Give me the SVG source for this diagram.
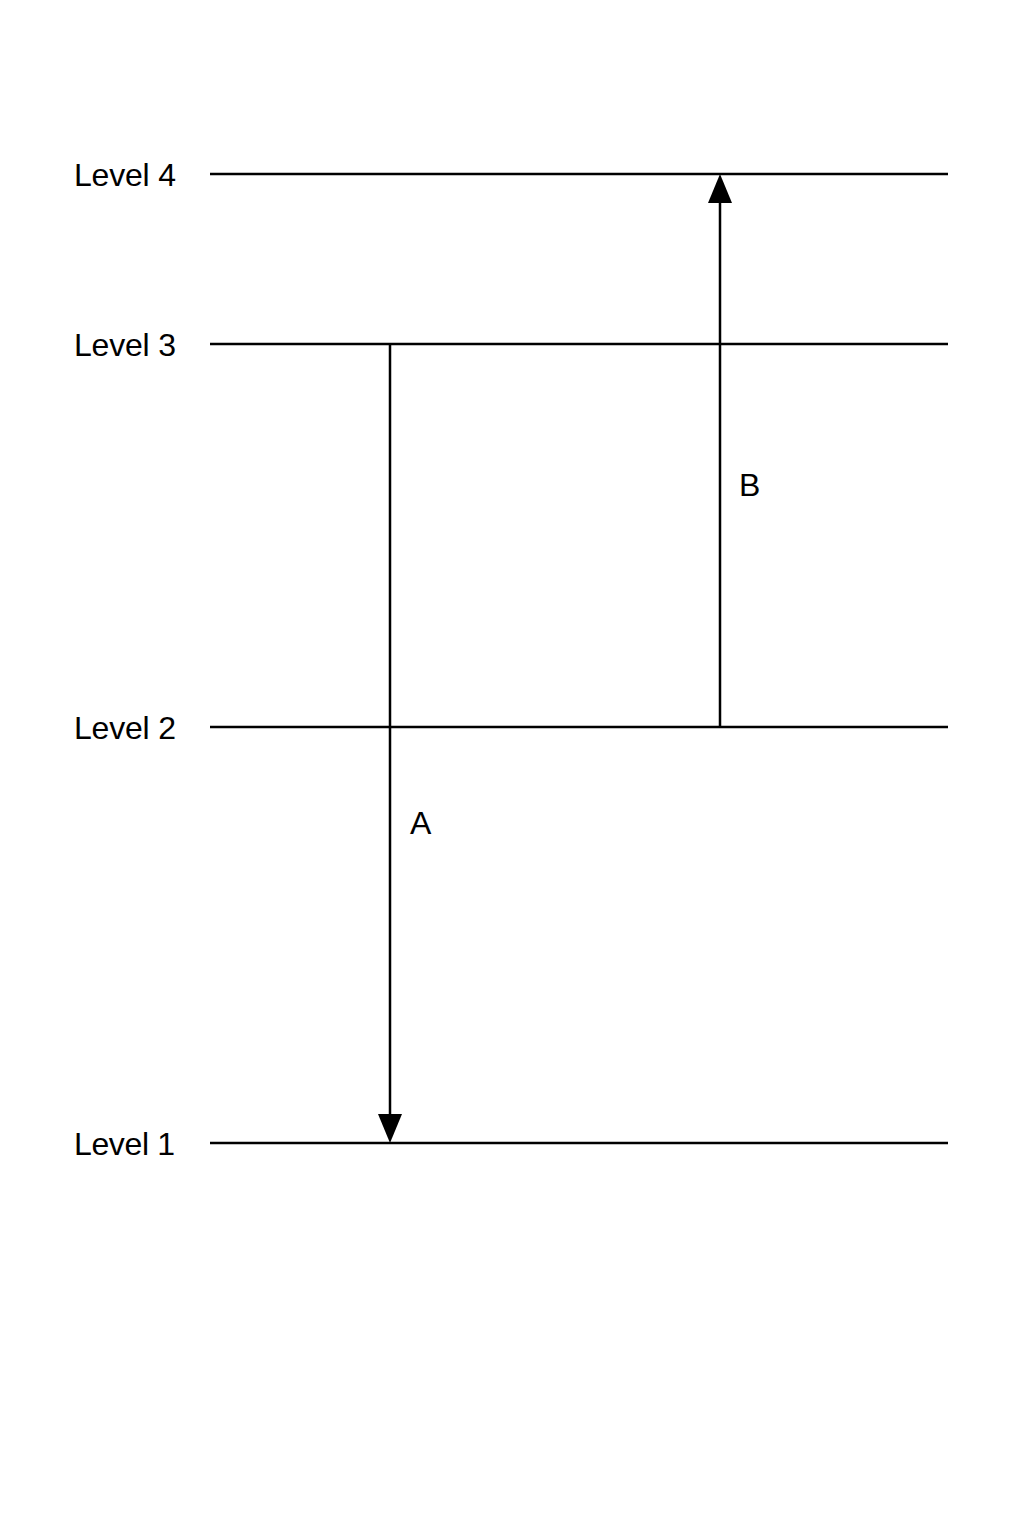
<svg xmlns="http://www.w3.org/2000/svg" width="1024" height="1536" viewBox="0 0 1024 1536">
<style>
.lvl{stroke:#000;stroke-width:2.5;fill:none}
.arr{stroke:#000;stroke-width:2.5;fill:none}
text{font-family:"Liberation Sans",Arial,sans-serif;font-size:32px;fill:#000}
</style>
<defs>
<marker id="ah" viewBox="0 0 24 30" refX="24" refY="12" markerWidth="30" markerHeight="24" markerUnits="userSpaceOnUse" orient="auto">
<path d="M0,0 L30,12 L0,24 Z" fill="#000"/>
</marker>
</defs>
<rect width="1024" height="1536" fill="#fff"/>
<g id="level4"><line class="lvl" x1="210" y1="174" x2="948" y2="174"/><text x="74" y="186" textLength="102">Level 4</text></g>
<g id="level3"><line class="lvl" x1="210" y1="344" x2="948" y2="344"/><text x="74" y="356" textLength="102">Level 3</text></g>
<g id="level2"><line class="lvl" x1="210" y1="727" x2="948" y2="727"/><text x="74" y="739" textLength="102">Level 2</text></g>
<g id="level1"><line class="lvl" x1="210" y1="1143" x2="948" y2="1143"/><text x="74" y="1155" textLength="101">Level 1</text></g>
<g id="connectors">
<path d="M390,344 L390,1114" class="arr"/>
<path d="M390,1143 L378,1114 L402,1114 Z" fill="#000"/>
<path d="M720,727 L720,203" class="arr"/>
<path d="M720,174 L708,203 L732,203 Z" fill="#000"/>
<text x="410" y="834">A</text>
<text x="739" y="496">B</text>
</g>
</svg>
